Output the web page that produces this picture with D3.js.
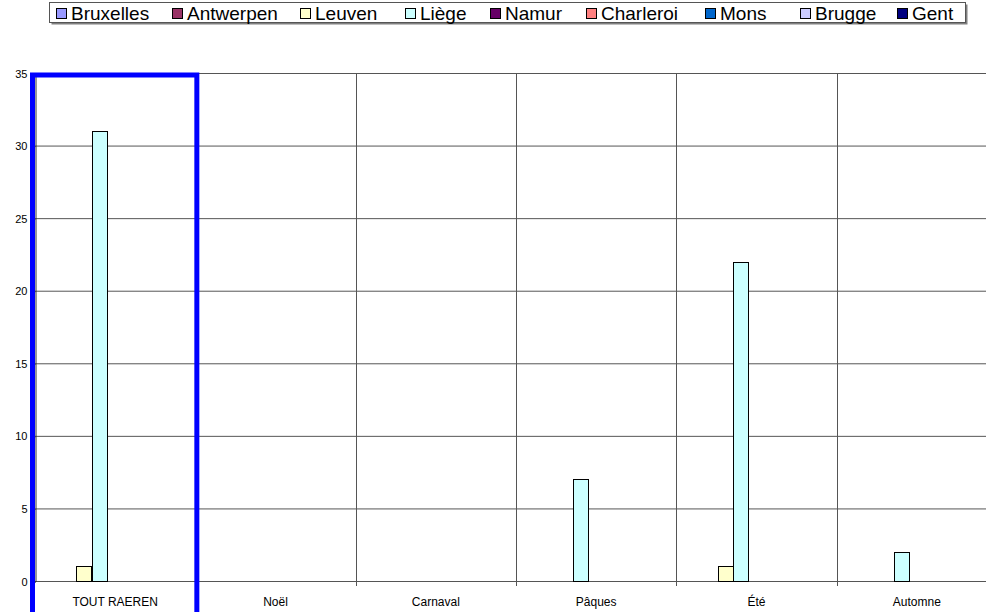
<!DOCTYPE html>
<html><head><meta charset="utf-8">
<script src="https://cdn.jsdelivr.net/npm/d3@7"></script>
<style>body{margin:0;background:#fff}svg{display:block;font-family:"Liberation Sans",Arial,sans-serif}</style>
</head><body>
<script>
const categories = ["TOUT RAEREN","Noël","Carnaval","Pâques","Été","Automne"];
const seriesNames = ["Bruxelles","Antwerpen","Leuven","Liège","Namur","Charleroi","Mons","Brugge","Gent"];
const seriesColors = ["#9999FF","#993366","#FFFFCC","#CCFFFF","#660066","#FF8080","#0066CC","#CCCCFF","#000080"];
const Bruxelles = [0,0,0,0,0,0];
const Antwerpen = [0,0,0,0,0,0];
const Leuven = [1,0,0,0,1,0];
const Liege = [31,0,0,7,22,2];
const Namur = [0,0,0,0,0,0];
const Charleroi = [0,0,0,0,0,0];
const Mons = [0,0,0,0,0,0];
const Brugge = [0,0,0,0,0,0];
const Gent = [0,0,0,0,0,0];
const seriesValues = [Bruxelles,Antwerpen,Leuven,Liege,Namur,Charleroi,Mons,Brugge,Gent];
const yTicks = [0,5,10,15,20,25,30,35];
const highlighted = "TOUT RAEREN";

(function(){
const W=986,H=612;
const svg=d3.select("body").append("svg").attr("width",W).attr("height",H);
const pL=35,pR=997,pT=73,pB=581;
const x0=d3.scaleBand().domain(categories).range([pL,pR]);
const x1=d3.scaleBand().domain(seriesNames).range([10.5,x0.bandwidth()-10.5]);
const y=d3.scaleLinear().domain([0,35]).range([pB,pT]);

svg.append("g").selectAll("line").data(yTicks).join("line")
 .attr("x1",pL).attr("x2",pR).attr("y1",d=>y(d)+0.5).attr("y2",d=>y(d)+0.5)
 .attr("stroke","#555").attr("stroke-width",1);
const bounds=categories.map(c=>x0(c)).concat([pR]);
svg.append("g").selectAll("line").data(bounds.slice(1)).join("line")
 .attr("x1",d=>Math.round(d)+0.5).attr("x2",d=>Math.round(d)+0.5).attr("y1",pT).attr("y2",pB+5)
 .attr("stroke","#555");
const yAxis=d3.axisLeft(y).tickValues(yTicks).tickSize(4).tickPadding(4);
const ga=svg.append("g").attr("transform",`translate(${pL+0.5},0.5)`).call(yAxis);
ga.select(".domain").attr("stroke","#333");
ga.selectAll(".tick line").attr("stroke","#333");
ga.selectAll("text").attr("font-size",11).attr("fill","#000").attr("font-family","Liberation Sans, Arial, sans-serif");

const data=[];
categories.forEach((c,i)=>seriesNames.forEach((s,j)=>{ if(seriesValues[j][i]>0) data.push({c,s,v:seriesValues[j][i],col:seriesColors[j]}); }));
svg.append("g").selectAll("rect").data(data).join("rect")
 .attr("x",d=>Math.round(x0(d.c)+x1(d.s))+0.5).attr("width",Math.round(x1.bandwidth()))
 .attr("y",d=>Math.round(y(d.v))+0.5).attr("height",d=>Math.round(y(0))-Math.round(y(d.v)))
 .attr("fill",d=>d.col).attr("stroke","#000").attr("stroke-width",1);

svg.append("g").selectAll("text").data(categories).join("text")
 .attr("x",d=>x0(d)+x0.bandwidth()/2).attr("y",606).attr("text-anchor","middle")
 .attr("font-size",12).text(d=>d);

svg.append("rect").attr("x",x0(highlighted)-2.5).attr("y",75).attr("width",x0.bandwidth()+4)
 .attr("height",600).attr("fill","none").attr("stroke","#0000FF").attr("stroke-width",5);

const legX=[56,172,300,405,490,586,705,800,897];
const lg=svg.append("g");
lg.append("rect").attr("x",51.5).attr("y",4.5).attr("width",916).attr("height",20).attr("fill","#808080");
lg.append("rect").attr("x",49.5).attr("y",2.5).attr("width",916).attr("height",20).attr("fill","#fff").attr("stroke","#555");
seriesNames.forEach((s,i)=>{
  lg.append("rect").attr("x",legX[i]+0.5).attr("y",8.5).attr("width",10).attr("height",10)
   .attr("fill",seriesColors[i]).attr("stroke","#000");
  lg.append("text").attr("x",legX[i]+15).attr("y",19.5).attr("font-size",19).text(s);
});
})();
</script>
</body></html>
